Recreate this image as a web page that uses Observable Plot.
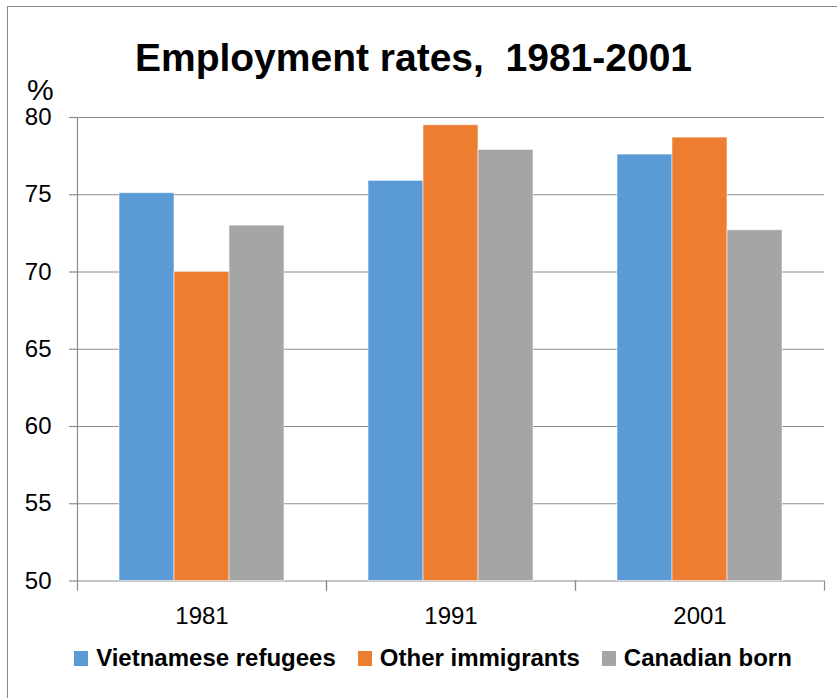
<!DOCTYPE html>
<html>
<head>
<meta charset="utf-8">
<script src="https://cdn.jsdelivr.net/npm/d3@7"></script>
<script src="https://cdn.jsdelivr.net/npm/@observablehq/plot@0.6"></script>
<style>
  html, body { margin: 0; padding: 0; background: #fff; overflow: hidden; }
  #wrap { position: relative; width: 837px; height: 698px; overflow: hidden; font-family: "Liberation Sans", Arial, sans-serif; }
  #border { position: absolute; left: 7px; top: 6px; width: 850px; height: 720px; border: 1.5px solid #8a8a8a; box-sizing: border-box; }
  #title { position: absolute; left: 0; top: 38px; width: 827px; text-align: center; font-weight: bold; font-size: 39px; white-space: pre; color: #000; line-height: 1; }
  #pct { position: absolute; left: 27px; top: 79px; font-size: 30px; color: #000; line-height: 0.75; }
  #chart { position: absolute; left: 0; top: 0; }
  #legend { position: absolute; left: 0; top: 646px; width: 866px; display: flex; justify-content: center; gap: 22px; font-weight: bold; font-size: 24px; color: #000; line-height: 24px; }
  .item { display: flex; align-items: center; gap: 8px; }
  .sw { width: 14px; height: 15px; display: inline-block; }
</style>
</head>
<body>
<div id="wrap">
  <div id="border"></div>
  <div id="title"></div>
  <div id="pct">%</div>
  <div id="chart"></div>
  <div id="legend"></div>
</div>
<script>
const titleText = "Employment rates,  1981-2001";
const years = ["1981", "1991", "2001"];
const series = ["Vietnamese refugees", "Other immigrants", "Canadian born"];
const colors = ["#5B9BD5", "#ED7D31", "#A5A5A5"];
const vietnameseRefugees = [75.1, 75.9, 77.6];
const otherImmigrants = [70.0, 79.5, 78.7];
const canadianBorn = [73.0, 77.9, 72.7];
const yDomain = [50, 80];
const yTicks = [50, 55, 60, 65, 70, 75, 80];

const seriesValues = [vietnameseRefugees, otherImmigrants, canadianBorn];
const data = [];
years.forEach((yr, i) => {
  series.forEach((s, j) => data.push({year: yr, series: s, value: seriesValues[j][i]}));
});

document.getElementById("title").textContent = titleText;

const W = 837, H = 698;
const mT = 117, mB = 117.5, mL = 76, mR = 13;
const innerH = H - mT - mB;
const gridColor = "#8c8c8c";

const chart = Plot.plot({
  width: W,
  height: H,
  marginTop: mT,
  marginBottom: mB,
  marginLeft: mL,
  marginRight: mR,
  style: {fontFamily: "Liberation Sans, Arial, sans-serif", fontSize: "24px", color: "#000", background: "transparent", overflow: "visible"},
  fx: {domain: years, padding: 0, label: null},
  x: {domain: series, paddingInner: 0, paddingOuter: 0.759, axis: null},
  y: {domain: yDomain, label: null},
  color: {domain: series, range: colors},
  marks: [
    Plot.gridY(yTicks, {stroke: gridColor, strokeOpacity: 1, strokeWidth: 1.2}),
    Plot.axisY(yTicks, {tickSize: 8, tickPadding: 18, stroke: gridColor, strokeWidth: 1.2, fill: "#000", fontSize: 24, label: null}),
    Plot.axisFx({anchor: "bottom", tickSize: 0, tickPadding: 26, fill: "#000", fontSize: 24, label: null}),
    Plot.barY(data, {fx: "year", x: "series", y1: yDomain[0], y2: "value", fill: "series", stroke: "#fff", strokeOpacity: 0.55, strokeWidth: 1}),
    Plot.frame({anchor: "left", insetTop: innerH, insetBottom: -9, stroke: gridColor, strokeWidth: 1.2}),
    Plot.frame({anchor: "right", insetTop: innerH, insetBottom: -9, stroke: gridColor, strokeWidth: 1.2}),
    Plot.frame({anchor: "left", facet: "super", stroke: gridColor, strokeWidth: 1.2})
  ]
});
document.getElementById("chart").appendChild(chart);

const legend = document.getElementById("legend");
series.forEach((s, i) => {
  const item = document.createElement("div");
  item.className = "item";
  const sw = document.createElement("span");
  sw.className = "sw";
  sw.style.background = colors[i];
  const lab = document.createElement("span");
  lab.textContent = s;
  item.appendChild(sw);
  item.appendChild(lab);
  legend.appendChild(item);
});
</script>
</body>
</html>
